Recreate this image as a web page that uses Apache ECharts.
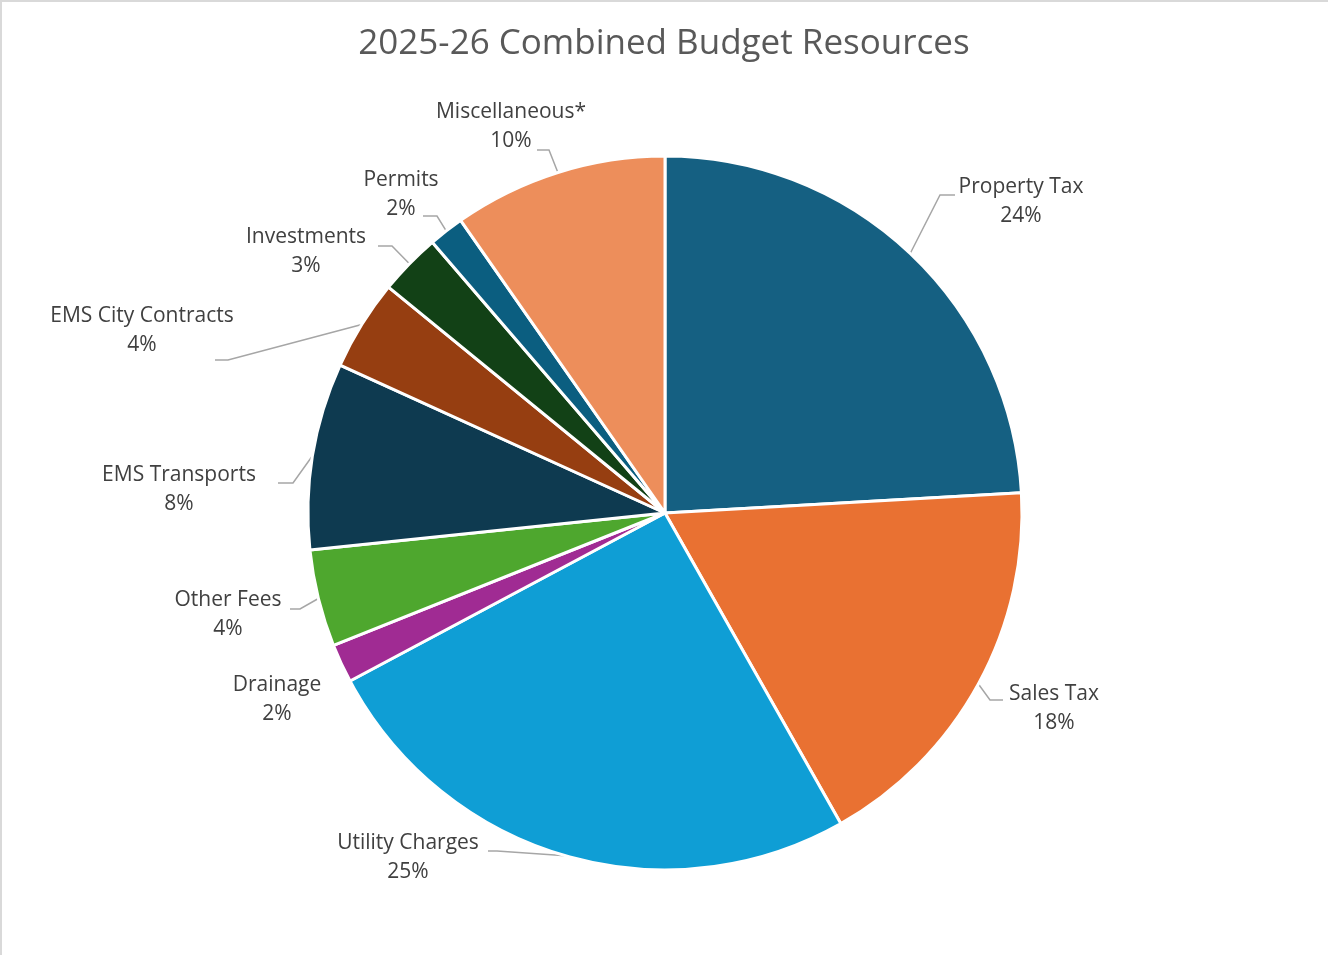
<!DOCTYPE html>
<html>
<head>
<meta charset="utf-8">
<title>2025-26 Combined Budget Resources</title>
<script src="https://cdn.jsdelivr.net/npm/echarts@6/dist/echarts.min.js"></script>
<style>
  html, body { margin: 0; padding: 0; background: #ffffff; overflow: hidden; }
  #chart { position: absolute; left: 0; top: 0; width: 1328px; height: 955px; }
  #frame { position: absolute; left: 0; top: 0; width: 1328px; height: 955px;
           border-left: 2px solid #d9d9d9; border-top: 2px solid #d9d9d9;
           box-sizing: border-box; pointer-events: none; }
</style>
</head>
<body>
<div id="chart"></div>
<div id="frame"></div>
<script>
// Revenue sources, clockwise from 12 o'clock (share of total, %)
const categories = [
  'Property Tax', 'Sales Tax', 'Utility Charges', 'Drainage', 'Other Fees',
  'EMS Transports', 'EMS City Contracts', 'Investments', 'Permits', 'Miscellaneous*'
];
const shares = [24.1, 17.7, 25.4, 1.75, 4.4, 8.45, 4.1, 2.8, 1.6, 9.7];

const sliceColors = [
  '#156082', '#E97132', '#0F9ED5', '#A02B93', '#4EA72E',
  '#0E3A50', '#963E11', '#124116', '#0B5E80', '#ED8E5B'
];

// Label block centres and leader-line elbows / ends (page pixels)
const labelSpots = [
  { c: [1021, 202], elbow: [940, 195], end: [955, 195] },
  { c: [1054, 709], elbow: [990, 700], end: [1003, 700] },
  { c: [408, 858],  elbow: [497, 851], end: [488, 851] },
  { c: [277, 700],  elbow: null,       end: null },
  { c: [228, 615],  elbow: [300, 609], end: [290, 609] },
  { c: [179, 490],  elbow: [293, 483], end: [278, 483] },
  { c: [142, 331],  elbow: [228, 360], end: [215, 360] },
  { c: [306, 252],  elbow: [392, 246], end: [378, 246] },
  { c: [401, 195],  elbow: [437, 216], end: [423, 216] },
  { c: [511, 127],  elbow: [549, 150], end: [537, 150] }
];

const total = shares.reduce((a, b) => a + b, 0);

const chart = echarts.init(document.getElementById('chart'), null, { renderer: 'canvas' });

const seriesData = categories.map((name, i) => ({
  name: name,
  value: shares[i],
  itemStyle: { color: sliceColors[i] },
  labelLine: { show: labelSpots[i].elbow !== null }
}));

chart.setOption({
  animation: false,
  backgroundColor: '#ffffff',
  title: {
    text: '2025-26 Combined Budget Resources',
    left: 'center',
    top: 22,
    textStyle: {
      fontFamily: 'Open Sans',
      fontSize: 35,
      fontWeight: 'normal',
      color: '#595959'
    }
  },
  series: [{
    type: 'pie',
    center: [665, 513],
    radius: 357,
    startAngle: 90,
    clockwise: true,
    avoidLabelOverlap: false,
    itemStyle: { borderColor: '#ffffff', borderWidth: 3 },
    label: {
      show: true,
      position: 'outside',
      formatter: p => p.name + '\n' + Math.round(p.value / total * 100) + '%',
      fontFamily: 'Open Sans',
      fontSize: 21,
      lineHeight: 29,
      color: '#404040',
      align: 'center'
    },
    labelLine: {
      show: true,
      length: 10,
      length2: 10,
      lineStyle: { color: '#a6a6a6', width: 1.5 }
    },
    labelLayout: params => {
      const spot = labelSpots[params.dataIndex];
      const out = {
        x: spot.c[0],
        y: spot.c[1],
        align: 'center',
        verticalAlign: 'middle'
      };
      if (spot.elbow && params.labelLinePoints) {
        out.labelLinePoints = [params.labelLinePoints[0], spot.elbow, spot.end];
      }
      return out;
    },
    data: seriesData
  }]
});
</script>
</body>
</html>
